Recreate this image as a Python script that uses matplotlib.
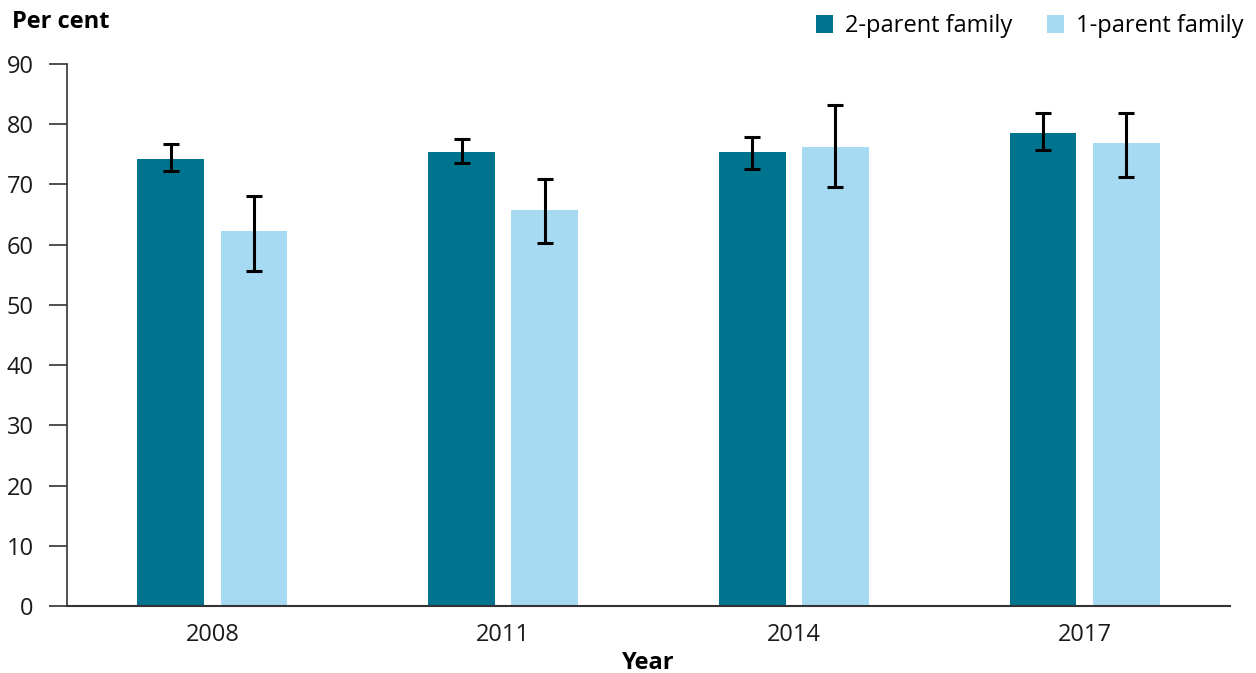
import matplotlib
matplotlib.use("Agg")
import matplotlib.pyplot as plt
import numpy as np

plt.rcParams['font.family'] = ['Open Sans', 'DejaVu Sans']

years = ["2008", "2011", "2014", "2017"]
two_parent = [74.2, 75.4, 75.4, 78.5]
two_parent_lo = [72.2, 73.5, 72.6, 75.7]
two_parent_hi = [76.7, 77.5, 77.9, 81.9]
one_parent = [62.2, 65.7, 76.3, 76.8]
one_parent_lo = [55.7, 60.2, 69.5, 71.2]
one_parent_hi = [68.1, 70.9, 83.2, 81.9]

dark = "#00738F"
light = "#A6DAF3"

fig = plt.figure(figsize=(12.56, 6.73), dpi=100)
ax = fig.add_axes([67/1256, 67/673, (1230-67)/1256, (606-64)/673])

x = np.arange(len(years))
w = 0.23
off = 0.143

def err(v, lo, hi):
    v = np.array(v); lo = np.array(lo); hi = np.array(hi)
    return np.vstack([v - lo, hi - v])

ax.bar(x - off, two_parent, width=w, color=dark, label="2-parent family", zorder=2)
ax.bar(x + off, one_parent, width=w, color=light, label="1-parent family", zorder=2)
ekw = dict(fmt="none", ecolor="black", elinewidth=2.2, capsize=6, capthick=2.2, zorder=3)
ax.errorbar(x - off, two_parent, yerr=err(two_parent, two_parent_lo, two_parent_hi), **ekw)
ax.errorbar(x + off, one_parent, yerr=err(one_parent, one_parent_lo, one_parent_hi), **ekw)

ax.set_xlim(-0.5, 3.5)
ax.set_ylim(0, 90)
ax.set_yticks(range(0, 91, 10))
ax.set_xticks(x)
ax.set_xticklabels(years)
for s in ["top", "right"]:
    ax.spines[s].set_visible(False)
ax.spines["left"].set_color("#333333")
ax.spines["bottom"].set_color("#333333")
ax.spines["left"].set_linewidth(1.2)
ax.spines["bottom"].set_linewidth(1.5)
ax.tick_params(axis="y", length=13, width=1.2, color="#333333", labelsize=17, pad=11, labelcolor="#1a1a1a")
ax.tick_params(axis="x", length=0, labelsize=17, pad=12, labelcolor="#1a1a1a")

ax.set_xlabel("Year", fontsize=17, fontweight="bold", labelpad=3)
fig.text(12/1256, 1 - 22/673, "Per cent", fontsize=17, fontweight="bold", va="center", ha="left")

leg = fig.legend(loc="upper right", bbox_to_anchor=(1265/1256, 1 + 7/673), ncol=2, frameon=False,
                 fontsize=17, handlelength=0.75, handleheight=0.75, handletextpad=0.5, columnspacing=1.45)

fig.savefig("out.png", dpi=100)
